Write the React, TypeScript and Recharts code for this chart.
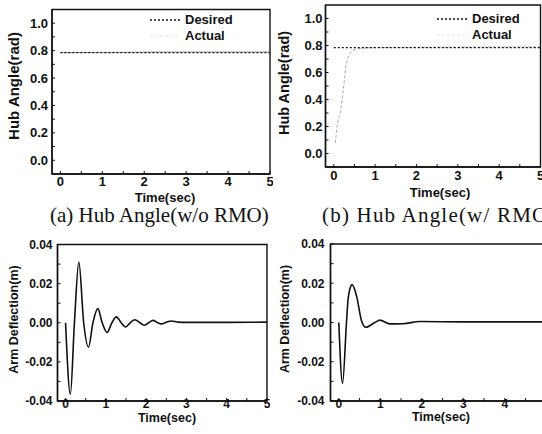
import React from "react";
import { LineChart, Line, XAxis, YAxis, Legend, ReferenceArea } from "recharts";

// ---- data ----
const TIME_TICKS = [0, 0.5, 1, 1.5, 2, 2.5, 3, 3.5, 4, 4.5, 5];
const HUB_TICKS = [0, 0.1, 0.2, 0.3, 0.4, 0.5, 0.6, 0.7, 0.8, 0.9, 1.0];
const DEFL_TICKS = [-0.04, -0.03, -0.02, -0.01, 0, 0.01, 0.02, 0.03, 0.04];

// (a) hub angle, w/o RMO
const A_DESIRED_T = [0, 5];
const A_DESIRED_V = [0.785, 0.785];
const A_ACTUAL_T = [0, 1, 2, 3, 4, 5];
const A_ACTUAL_V = [0.785, 0.787, 0.789, 0.79, 0.79, 0.79];

// (b) hub angle, w/ RMO
const B_DESIRED_T = [0, 5];
const B_DESIRED_V = [0.785, 0.785];
const B_ACTUAL_T = [0.04, 0.08, 0.16, 0.23, 0.31, 0.45, 0.7, 1.0, 5];
const B_ACTUAL_V = [0.08, 0.2, 0.31, 0.47, 0.67, 0.76, 0.78, 0.785, 0.79];

// arm deflection, w/o RMO
const C_T = [0, 0.12, 0.22, 0.33, 0.45, 0.57, 0.68, 0.8, 0.91, 1.03, 1.15, 1.26, 1.38, 1.49, 1.61, 1.72, 1.84, 1.95, 2.06, 2.17, 2.28, 2.38, 2.5, 2.62, 2.8, 3.0, 4.0, 5.0];
const C_V = [0, -0.0365, 0, 0.031, 0, -0.0125, 0, 0.0072, 0, -0.005, 0, 0.003, 0, -0.0022, 0.0001, 0.0015, 0.0001, -0.0013, 0, 0.0012, 0.0001, -0.0006, 0.0002, 0.0009, 0.0003, 0.0002, 0.0002, 0.0003];

// arm deflection, w/ RMO
const D_T = [0, 0.09, 0.185, 0.22, 0.28, 0.32, 0.43, 0.55, 0.65, 0.87, 0.99, 1.23, 1.55, 1.95, 3.0, 5.0];
const D_V = [0, -0.031, 0, 0.011, 0.018, 0.0193, 0.0133, 0.0007, -0.0024, 0, 0.0012, -0.0007, -0.0006, 0.0005, 0.0003, 0.0003];

const X_DOMAIN = [-0.2, 5];
const HUB_DOMAIN = [-0.1, 1.1];
const DEFL_DOMAIN = [-0.04, 0.04];

const SANS = '"Liberation Sans", Arial, sans-serif';
const SERIF = '"Liberation Serif", "Times New Roman", serif';
const INK = "#111";

const zip = (t: number[], v: number[]) => t.map((x, i) => ({ t: x, v: v[i] }));

const hubFmt = (v: number) => (Math.round(v * 10) % 2 === 0 ? v.toFixed(1) : "");
const deflFmt = (v: number) => (Math.round(v * 100) % 2 === 0 ? v.toFixed(2) : "");
const timeFmt = (v: number) => (Number.isInteger(v) ? String(v) : "");

function AxisTitle({ px, py, text, rotate, size }: any) {
  return (
    <text
      x={px}
      y={py}
      transform={rotate ? `rotate(-90 ${px} ${py})` : undefined}
      textAnchor="middle"
      dominantBaseline="central"
      fontFamily={SANS}
      fontSize={size}
      fontWeight="bold"
      fill={INK}
    >
      {text}
    </text>
  );
}

function HubLegend() {
  return (
    <div style={{ fontFamily: SANS, fontSize: 13, fontWeight: "bold", color: INK, lineHeight: "16px" }}>
      <div style={{ display: "flex", alignItems: "center" }}>
        <svg width={30} height={4}>
          <line x1={0} y1={2} x2={30} y2={2} stroke={INK} strokeWidth={1.3} strokeDasharray="2 2" />
        </svg>
        <span style={{ marginLeft: 5 }}>Desired</span>
      </div>
      <div style={{ display: "flex", alignItems: "center" }}>
        <svg width={30} height={4}>
          <line x1={0} y1={2} x2={30} y2={2} stroke="#e4e4e4" strokeWidth={1} strokeDasharray="3 2" />
        </svg>
        <span style={{ marginLeft: 5 }}>Actual</span>
      </div>
    </div>
  );
}

type Series = { data: { t: number; v: number }[]; color: string; width: number; dash?: string };

type PanelProps = {
  left: number;
  top: number;
  width: number;
  height: number;
  margin: { top: number; right: number; bottom: number; left: number };
  yWidth: number;
  xHeight: number;
  yDomain: number[];
  yTicks: number[];
  yFmt: (v: number) => string;
  fontSize: number;
  xTickMargin: number;
  yTickMargin: number;
  series: Series[];
  xTitle: { x: number; y: number; size: number };
  yTitle: { x: number; y: number; text: string; size: number };
  legend?: { left: number; top: number };
};

function Panel(p: PanelProps) {
  const tickStyle = { fill: INK, fontSize: p.fontSize, fontFamily: SANS, fontWeight: "bold" as const };
  const axisLine = { stroke: INK, strokeWidth: 1.4 };
  return (
    <div style={{ position: "absolute", left: p.left, top: p.top }}>
      <LineChart width={p.width} height={p.height} margin={p.margin}>
        <XAxis
          type="number"
          dataKey="t"
          domain={X_DOMAIN}
          ticks={TIME_TICKS}
          interval={0}
          allowDataOverflow
          tickFormatter={timeFmt}
          tick={tickStyle}
          tickSize={-3}
          tickMargin={p.xTickMargin}
          axisLine={axisLine}
          tickLine={{ stroke: INK }}
          height={p.xHeight}
          label={<AxisTitle px={p.xTitle.x} py={p.xTitle.y} text="Time(sec)" size={p.xTitle.size} />}
        />
        <YAxis
          type="number"
          domain={p.yDomain}
          ticks={p.yTicks}
          interval={0}
          allowDataOverflow
          tickFormatter={p.yFmt}
          tick={tickStyle}
          tickSize={-3}
          tickMargin={p.yTickMargin}
          axisLine={axisLine}
          tickLine={{ stroke: INK }}
          width={p.yWidth}
          label={<AxisTitle px={p.yTitle.x} py={p.yTitle.y} text={p.yTitle.text} rotate size={p.yTitle.size} />}
        />
        {/* frame of the plot box */}
        <ReferenceArea
          x1={X_DOMAIN[0]}
          x2={X_DOMAIN[1]}
          y1={p.yDomain[0]}
          y2={p.yDomain[1]}
          fill="none"
          stroke={INK}
          strokeWidth={1.4}
          ifOverflow="visible"
        />
        {p.legend && (
          <Legend
            layout="vertical"
            align="center"
            verticalAlign="middle"
            wrapperStyle={{ left: p.legend.left, top: p.legend.top, width: "auto", height: "auto" }}
            content={() => <HubLegend />}
          />
        )}
        {p.series.map((s, i) => (
          <Line
            key={i}
            data={s.data}
            dataKey="v"
            type="monotone"
            stroke={s.color}
            strokeWidth={s.width}
            strokeDasharray={s.dash}
            dot={false}
            activeDot={false}
            isAnimationActive={false}
          />
        ))}
      </LineChart>
    </div>
  );
}

export default function App() {
  const caption = {
    position: "absolute" as const,
    top: 205,
    fontFamily: SERIF,
    fontSize: 21,
    lineHeight: "21px",
    color: INK,
    whiteSpace: "nowrap" as const,
  };
  return (
    <div style={{ position: "absolute", left: 0, top: 0, width: 542, height: 434, overflow: "hidden", background: "#fff" }}>
      <Panel
        left={0}
        top={0}
        width={273}
        height={210}
        margin={{ top: 9.5, right: 3, bottom: 0, left: 0 }}
        yWidth={52}
        xHeight={36}
        yDomain={HUB_DOMAIN}
        yTicks={HUB_TICKS}
        yFmt={hubFmt}
        fontSize={13}
        xTickMargin={6}
        yTickMargin={7}
        series={[
          { data: zip(A_ACTUAL_T, A_ACTUAL_V), color: "#9a9a9a", width: 1 },
          { data: zip(A_DESIRED_T, A_DESIRED_V), color: INK, width: 1.3, dash: "2 2" },
        ]}
        xTitle={{ x: 165, y: 197, size: 13 }}
        yTitle={{ x: 13, y: 86, text: "Hub Angle(rad)", size: 15 }}
        legend={{ left: 150, top: 12 }}
      />
      <Panel
        left={271}
        top={0}
        width={271}
        height={203}
        margin={{ top: 5, right: 1.5, bottom: 0, left: 0 }}
        yWidth={54.5}
        xHeight={36}
        yDomain={HUB_DOMAIN}
        yTicks={HUB_TICKS}
        yFmt={hubFmt}
        fontSize={13}
        xTickMargin={7}
        yTickMargin={6}
        series={[
          { data: zip(B_ACTUAL_T, B_ACTUAL_V), color: "#a8a8a8", width: 1, dash: "3 2" },
          { data: zip(B_DESIRED_T, B_DESIRED_V), color: INK, width: 1.3, dash: "2 2" },
        ]}
        xTitle={{ x: 169, y: 192, size: 13 }}
        yTitle={{ x: 13, y: 83, text: "Hub Angle(rad)", size: 14.5 }}
        legend={{ left: 166, top: 11 }}
      />
      <Panel
        left={0}
        top={217}
        width={270}
        height={217}
        margin={{ top: 27.5, right: 3, bottom: 0, left: 0 }}
        yWidth={57.5}
        xHeight={33}
        yDomain={DEFL_DOMAIN}
        yTicks={DEFL_TICKS}
        yFmt={deflFmt}
        fontSize={12}
        xTickMargin={1}
        yTickMargin={8}
        series={[{ data: zip(C_T, C_V), color: INK, width: 1.6 }]}
        xTitle={{ x: 167, y: 201, size: 12.5 }}
        yTitle={{ x: 13.5, y: 102.5, text: "Arm Deflection(m)", size: 12.5 }}
      />
      <Panel
        left={271}
        top={217}
        width={278.3}
        height={217}
        margin={{ top: 27, right: 3, bottom: 0, left: 0 }}
        yWidth={59.5}
        xHeight={33}
        yDomain={DEFL_DOMAIN}
        yTicks={DEFL_TICKS}
        yFmt={deflFmt}
        fontSize={12}
        xTickMargin={1}
        yTickMargin={9}
        series={[{ data: zip(D_T, D_V), color: INK, width: 1.6 }]}
        xTitle={{ x: 170, y: 200, size: 12.5 }}
        yTitle={{ x: 14, y: 102, text: "Arm Deflection(m)", size: 12.5 }}
      />
      <div style={{ ...caption, left: 50 }}>(a) Hub Angle(w/o RMO)</div>
      <div style={{ ...caption, left: 322, letterSpacing: 1.2 }}>(b) Hub Angle(w/ RMO)</div>
    </div>
  );
}
